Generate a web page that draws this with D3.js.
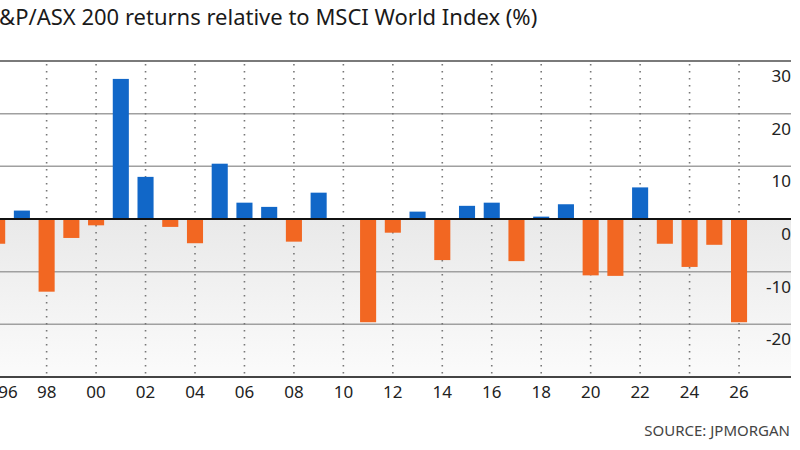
<!DOCTYPE html>
<html>
<head>
<meta charset="utf-8">
<script src="https://cdn.jsdelivr.net/npm/d3@7"></script>
<style>
  html, body { margin: 0; padding: 0; background: #fff; }
  svg { display: block; font-family: "Noto Sans", "Open Sans", sans-serif; }
</style>
</head>
<body>
<svg id="chart" width="800" height="450"></svg>
<script>
const years = [1996, 1997, 1998, 1999, 2000, 2001, 2002, 2003, 2004, 2005, 2006, 2007, 2008, 2009, 2010,
               2011, 2012, 2013, 2014, 2015, 2016, 2017, 2018, 2019, 2020, 2021, 2022, 2023, 2024, 2025, 2026];
const relativeReturns = [-4.7, 1.6, -13.8, -3.6, -1.2, 26.6, 8.0, -1.5, -4.6, 10.5, 3.1, 2.3, -4.3, 5.0, 0,
                         -19.6, -2.6, 1.4, -7.8, 2.5, 3.1, -8.0, 0.45, 2.8, -10.7, -10.8, 6.0, -4.7, -9.1, -4.9, -19.6];
const xTickYears = [1996, 1998, 2000, 2002, 2004, 2006, 2008, 2010, 2012, 2014, 2016, 2018, 2020, 2022, 2024, 2026];
const yTicks = [30, 20, 10, 0, -10, -20, -30];
const titleText = "S&P/ASX 200 returns relative to MSCI World Index (%)";
const sourceText = "SOURCE: JPMORGAN";

const svg = d3.select("#chart");
const lineRight = 791;

const y = d3.scaleLinear().domain([-30, 30]).range([377, 61]);
const x = d3.scaleBand().domain(years).range([-15.2, 751.4]).paddingInner(0.35).paddingOuter(0.175);
const cx = d => x(d) + x.bandwidth() / 2;

// gradient for negative region
const defs = svg.append("defs");
const grad = defs.append("linearGradient").attr("id", "neg").attr("x1", 0).attr("x2", 0).attr("y1", 0).attr("y2", 1);
grad.append("stop").attr("offset", "0%").attr("stop-color", "#e9e9e9");
grad.append("stop").attr("offset", "100%").attr("stop-color", "#fbfbfb");

svg.append("rect")
  .attr("x", 0).attr("y", y(0))
  .attr("width", lineRight).attr("height", y(-30) - y(0))
  .attr("fill", "url(#neg)");

// horizontal gridlines
svg.append("g").selectAll("line")
  .data(yTicks.filter(d => d !== 0))
  .join("line")
  .attr("x1", 0).attr("x2", lineRight)
  .attr("y1", d => y(d)).attr("y2", d => y(d))
  .attr("stroke", d => d === 30 ? "#7a7a7a" : (d === -30 ? "#444" : "#a0a0a0"))
  .attr("stroke-width", d => (d === 30 || d === -30) ? 2 : 1.5);

// dotted verticals at labelled years
svg.append("g").selectAll("line")
  .data(xTickYears)
  .join("line")
  .attr("x1", d => cx(d)).attr("x2", d => cx(d))
  .attr("y1", y(30) + 3).attr("y2", y(-30) - 2)
  .attr("stroke", "#777")
  .attr("stroke-width", 1.6)
  .attr("stroke-dasharray", "1.6 5.4");

// bars
svg.append("g").selectAll("rect")
  .data(years.map((yr, i) => ({ yr, v: relativeReturns[i] })))
  .join("rect")
  .attr("x", d => x(d.yr))
  .attr("width", x.bandwidth())
  .attr("y", d => y(Math.max(0, d.v)))
  .attr("height", d => Math.abs(y(d.v) - y(0)))
  .attr("fill", d => d.v >= 0 ? "#1167c8" : "#f26722");

// zero line
svg.append("line")
  .attr("x1", 0).attr("x2", lineRight)
  .attr("y1", y(0)).attr("y2", y(0))
  .attr("stroke", "#111").attr("stroke-width", 2);

// y labels (right, below gridlines)
svg.append("g").selectAll("text")
  .data(yTicks.filter(d => d !== -30))
  .join("text")
  .attr("x", lineRight)
  .attr("y", d => y(d) + 21)
  .attr("text-anchor", "end")
  .attr("font-size", 17)
  .attr("fill", "#222")
  .text(d => d);

// x labels via axis
const xAxis = d3.axisBottom(x)
  .tickValues(xTickYears)
  .tickSize(0)
  .tickFormat(d => String(d).slice(2));
const gx = svg.append("g").attr("transform", `translate(0,${y(-30)})`).call(xAxis);
gx.select(".domain").remove();
gx.selectAll("text")
  .attr("font-size", 17)
  .attr("font-family", "Noto Sans, Open Sans, sans-serif")
  .attr("fill", "#222")
  .attr("dy", null)
  .attr("y", 21);
// keep the first label inside the frame
gx.selectAll(".tick").filter(d => cx(d) < 8)
  .select("text").attr("x", d => 8 - cx(d));

// title
svg.append("text")
  .attr("x", -13).attr("y", 25)
  .attr("font-size", 22)
  .attr("fill", "#1a1a1a")
  .text(titleText);

// source
svg.append("text")
  .attr("x", lineRight - 1).attr("y", 436)
  .attr("text-anchor", "end")
  .attr("font-size", 15)
  .attr("fill", "#444")
  .text(sourceText);
</script>
</body>
</html>
